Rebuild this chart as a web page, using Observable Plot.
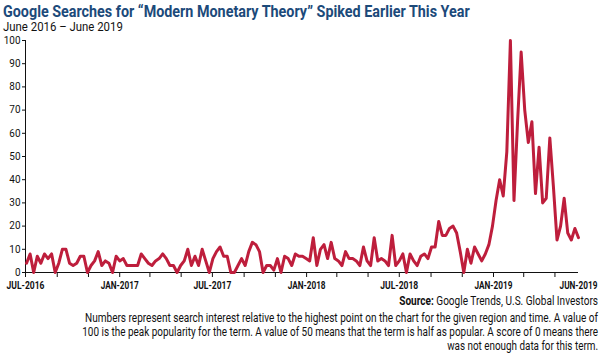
<!DOCTYPE html>
<html><head><meta charset="utf-8">
<script src="https://cdn.jsdelivr.net/npm/d3@7"></script>
<script src="https://cdn.jsdelivr.net/npm/@observablehq/plot@0.6"></script>
<style>
body{margin:0;background:#fff;}
#wrap{width:600px;height:354px;overflow:hidden;font-family:Roboto,sans-serif;background:#fff;}
svg{display:block;}
</style></head><body><div id="wrap"></div>
<script>
// ---- data ----
const titleText = "Google Searches for \u201CModern Monetary Theory\u201D Spiked Earlier This Year";
const subtitleText = "June 2016 \u2013 June 2019";
const sourceLabel = "Source:";
const sourceText = " Google Trends, U.S. Global Investors";
const noteLines = [
  "Numbers represent search interest relative to the highest point on the chart for the given region and time. A value of",
  "100 is the peak popularity for the term. A value of 50 means that the term is half as popular. A score of 0 means there",
  "was not enough data for this term."
];
const firstWeek = "2016-07-03";   // weekly observations (Sundays)
const interest = [
  4,8,0,7,4,8,6,8,0,4,
  10,10,4,3,4,7,7,0,3,5,
  9,3,5,4,0,7,5,6,3,3,
  3,3,8,6,4,3,5,6,8,6,
  3,3,0,3,5,10,3,7,3,10,
  5,0,6,9,11,7,7,0,0,3,
  6,3,9,13,12,9,0,3,3,1,
  6,0,7,6,3,8,7,7,6,5,
  15,3,10,12,6,13,6,5,3,9,
  6,6,5,3,11,5,3,15,5,6,
  5,3,16,3,5,8,0,8,5,3,
  7,8,6,11,11,22,16,16,19,20,
  17,9,0,10,4,11,8,5,8,12,
  20,31,40,33,52,100,31,65,95,70,
  56,65,34,54,30,32,58,37,14,20,
  32,17,14,19,15
];
const xDomain = ["2016-07-01", "2019-06-16"];
const xTickDates = ["2016-07-01","2016-09-01","2016-11-01","2017-01-01","2017-03-01","2017-05-01",
  "2017-07-01","2017-09-01","2017-11-01","2018-01-01","2018-03-01","2018-05-01",
  "2018-07-01","2018-09-01","2018-11-01","2019-01-01","2019-03-01","2019-05-01"];
const xTickLabels = {"2016-07-01":"JUL-2016","2017-01-01":"JAN-2017","2017-07-01":"JUL-2017",
  "2018-01-01":"JAN-2018","2018-07-01":"JUL-2018","2019-01-01":"JAN-2019"};
const endLabelDate = "2019-06-16";
const endLabel = "JUN-2019";
const yTicks = [0,10,20,30,40,50,60,70,80,90,100];

// ---- build ----
const lineColor = "#be1e3c";
const titleColor = "#1c4a7a";
const start = new Date(firstWeek);
const weeks = interest.map((v, i) => ({date: d3.utcDay.offset(start, 7 * i), value: v}));
const fmtKey = d3.utcFormat("%Y-%m-%d");
const wrap = d3.select("#wrap");

// horizontally condense a text element to a target width, about its own anchor x
function squeeze(node, targetWidth) {
  const w = node.getComputedTextLength();
  if (!w) return;
  const s = Math.min(1, targetWidth / w);
  const xa = parseFloat(node.getAttribute("x"));
  const x = isFinite(xa) ? xa : 0;
  const prev = node.getAttribute("transform") || "";
  node.setAttribute("transform",
    `${prev} translate(${x},0) scale(${s.toFixed(4)},1) translate(${-x},0)`);
}

// chart (title and subtitle live in the chart's own top margin)
const chart = Plot.plot({
  width: 600, height: 294,
  marginTop: 40, marginLeft: 25, marginRight: 22, marginBottom: 22,
  style: {fontFamily: "Roboto, sans-serif", fontSize: "10.5px", color: "#111", background: "#fff"},
  x: {type: "utc", domain: xDomain.map(d => new Date(d))},
  y: {domain: [0, 100]},
  marks: [
    Plot.axisY({ticks: yTicks, tickSize: 3, tickPadding: 2, label: null, tickFormat: d => String(d)}),
    Plot.axisX({ticks: xTickDates.map(d => new Date(d)), tickSize: 5, tickPadding: 4, label: null,
      fontSize: 11, tickFormat: d => xTickLabels[fmtKey(d)] || ""}),
    Plot.axisX({ticks: [new Date(endLabelDate)], tickSize: 0, tickPadding: 9, label: null,
      fontSize: 11, tickFormat: () => endLabel}),
    Plot.ruleX([new Date(xDomain[0])], {y1: 0, y2: 100, stroke: "#111"}),
    Plot.ruleY([0], {stroke: "#111"}),
    Plot.line(weeks, {x: "date", y: "value", stroke: lineColor, strokeWidth: 3, strokeLinejoin: "round"})
  ]
});
wrap.node().appendChild(chart);
const head = d3.select(chart).append("g").attr("font-family", "Roboto, sans-serif")
  .attr("text-anchor", "start");
const tNode = head.append("text").attr("x", 3).attr("y", 17).attr("font-size", 16.5).attr("font-weight", "bold")
  .attr("text-anchor", "start").attr("fill", titleColor).text(titleText).node();
const sNode = head.append("text").attr("x", 3).attr("y", 31.5).attr("font-size", 12.5).attr("fill", "#111")
  .attr("text-anchor", "start").text(subtitleText).node();

// footer
const footer = wrap.append("svg").attr("width", 600).attr("height", 60)
  .attr("font-family", "Roboto, sans-serif").attr("fill", "#111");
const src = footer.append("text").attr("x", 598).attr("y", 11).attr("font-size", 12)
  .attr("text-anchor", "end");
src.append("tspan").attr("font-weight", "bold").text(sourceLabel);
src.append("tspan").text(sourceText);
const noteY = [28, 42.5, 56.5];
const noteW = [514, 516, 151];
const noteNodes = noteLines.map((s, i) =>
  footer.append("text").attr("x", 598).attr("y", noteY[i]).attr("font-size", 12)
    .attr("text-anchor", "end").text(s).node());

// condense texts (condensed typeface look)
squeeze(tNode, 467);
squeeze(sNode, 120);
squeeze(src.node(), 199);
noteNodes.forEach((n, i) => squeeze(n, noteW[i]));
d3.select(chart).selectAll("g[aria-label='x-axis tick label'] text").each(function() {
  this.setAttribute("font-weight", "bold");
  if (this.textContent) squeeze(this, 38);
});
d3.select(chart).selectAll("g[aria-label='y-axis tick label'] text").each(function() {
  squeeze(this, this.textContent.length * 5.6);
});
</script></body></html>
